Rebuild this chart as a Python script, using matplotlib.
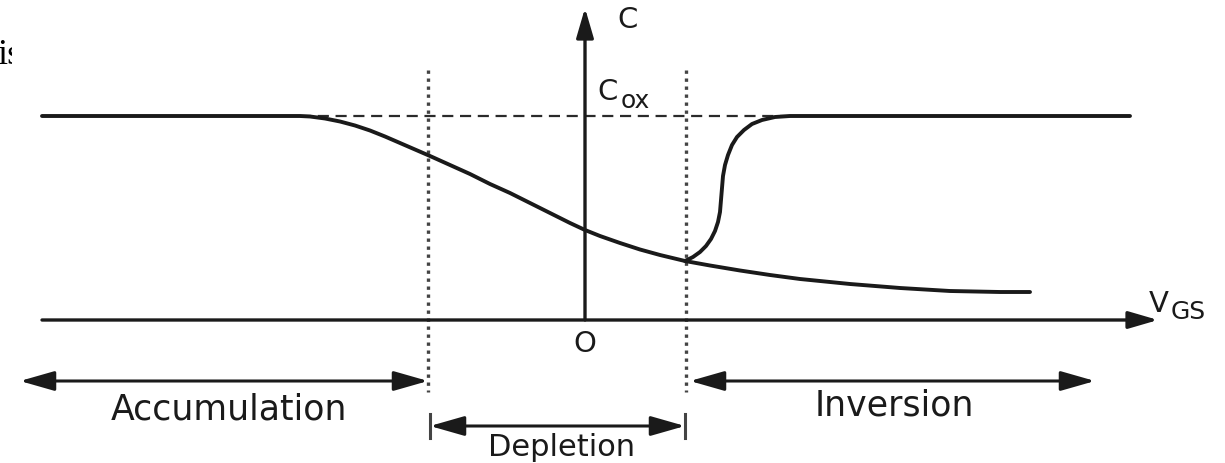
import matplotlib
matplotlib.use("Agg")
import matplotlib.pyplot as plt
from matplotlib.transforms import Bbox, TransformedBbox

# C-V curve of a MOS capacitor (pixel-like units,
# y grows downwards)
hf_vgs = [42, 300, 310, 325, 340, 355, 370, 385, 400, 415, 430, 450, 470,
          490, 510, 530, 550, 570, 585, 600, 620, 640, 660, 685, 710, 740,
          770, 800, 850, 900, 950, 1000, 1030]
hf_c = [116, 116, 116.5, 118.5, 121.5, 125.5, 130.5, 136.5, 143, 149.5, 156,
        165, 174, 184, 193, 203, 213, 223, 230, 236, 243, 249.5, 255, 261,
        265.5, 270.5, 275, 279, 284, 288, 291, 292, 292]

lf_vgs = [685, 693, 700, 706, 711, 715, 718, 720, 721, 722, 723, 725, 728,
          732, 737, 744, 752, 762, 775, 790, 1130]
lf_c = [261, 257, 252, 246, 239, 231, 222, 212, 200, 188, 176, 165, 155,
        145, 137, 130, 124, 120, 117, 116, 116]

c_ox = 116
cox_from, cox_to = 300, 790

axis_y = 320          # V_GS axis
axis_x = 585          # C axis
v_fb = 428            # accumulation / depletion edge
v_t = 686             # depletion / inversion edge

regions = ["Accumulation", "Depletion", "Inversion"]

ink = "#1a1a1a"
fs = 25

fig = plt.figure(figsize=(12.25, 4.63), dpi=100)
ax = fig.add_axes([0, 0, 1, 1])
ax.set_xlim(0, 1225)
ax.set_ylim(463, 0)
ax.axis("off")

# axes with arrows
arr_ax = dict(arrowstyle="-|>,head_length=1.2,head_width=0.35", color=ink,
              lw=2.4, shrinkA=0, shrinkB=0, mutation_scale=15)
ax.annotate("", xy=(1158, axis_y), xytext=(42, axis_y), arrowprops=arr_ax)
ax.annotate("", xy=(axis_x, 8), xytext=(axis_x, axis_y), arrowprops=arr_ax)

# Cox dashed line
ax.plot([cox_from, cox_to], [c_ox, c_ox], color="#2a2a2a", lw=1.6,
        dashes=(5, 3))

# region boundaries
for xv in (v_fb, v_t):
    ax.plot([xv, xv], [70, 392], color="#444444", lw=2.4, dashes=(1, 1.4))

# curves
ax.plot(hf_vgs, hf_c, color=ink, lw=2.8, solid_capstyle="round",
        solid_joinstyle="round")
ax.plot(lf_vgs, lf_c, color=ink, lw=2.8, solid_capstyle="round",
        solid_joinstyle="round")

# region arrows
arr2 = dict(arrowstyle="<|-|>,head_length=1.4,head_width=0.4", color=ink,
            lw=2.2, shrinkA=0, shrinkB=0, mutation_scale=15)
ax.annotate("", xy=(20, 381), xytext=(v_fb, 381), arrowprops=arr2)
ax.annotate("", xy=(v_t + 4, 381), xytext=(1095, 381), arrowprops=arr2)
ax.annotate("", xy=(v_fb + 2, 426), xytext=(v_t - 1, 426), arrowprops=arr2)
for xv in (v_fb + 2, v_t - 1):
    ax.plot([xv, xv], [414, 438], color="#444444", lw=2.2)

ax.text(229, 420, regions[0], fontsize=fs, color=ink, ha="center",
        va="baseline")
ax.text(562, 456, regions[1], fontsize=22, color=ink, ha="center",
        va="baseline")
ax.text(894, 415, regions[2], fontsize=fs, color=ink, ha="center",
        va="baseline")

# axis labels
ax.text(628, 28, "C", fontsize=21, color=ink, ha="center", va="baseline")
ax.text(608, 100, "C", fontsize=21, color=ink, ha="center", va="baseline")
ax.text(621, 108, "ox", fontsize=18, color=ink, ha="left", va="baseline")
ax.text(1159, 312, "V", fontsize=21, color=ink, ha="center", va="baseline")
ax.text(1171, 319, "GS", fontsize=18, color=ink, ha="left", va="baseline")
ax.text(585, 352, "O", fontsize=21, color=ink, ha="center", va="baseline")

# leftover fragment of surrounding page text, cut at its right side
frag = ax.text(-3, 64, "is", fontsize=26, color="black", ha="left",
               va="baseline", family="Liberation Serif")
frag.set_clip_box(TransformedBbox(Bbox([[-5, 0], [12, 463]]), ax.transData))
frag.set_clip_on(True)

fig.savefig("out.png", dpi=100)
